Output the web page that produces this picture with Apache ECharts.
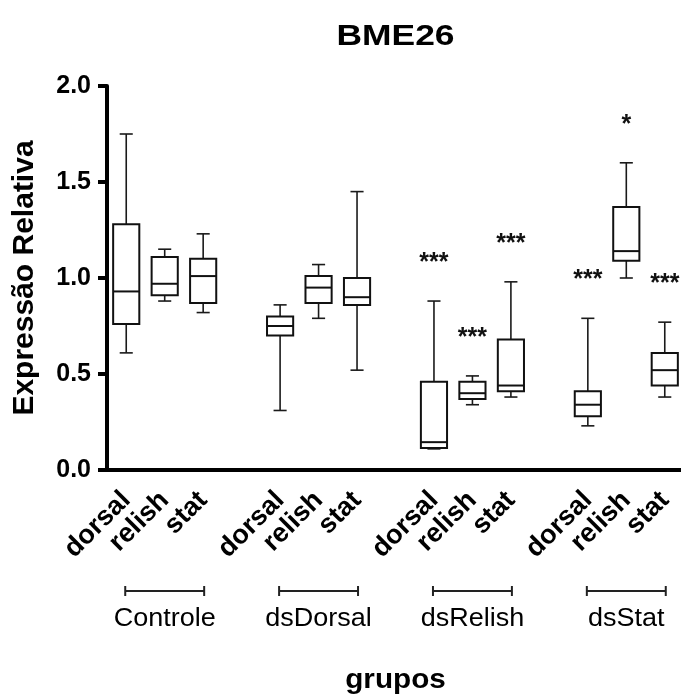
<!DOCTYPE html>
<html>
<head>
<meta charset="utf-8">
<script src="https://cdn.jsdelivr.net/npm/echarts@6/dist/echarts.min.js"></script>
<style>
  html, body { margin: 0; padding: 0; background: #fff; }
  #chart { width: 681px; height: 698px; }
</style>
</head>
<body>
<div id="chart"></div>
<script>
// Treatment groups and the genes measured in each
const groups = ['Controle', 'dsDorsal', 'dsRelish', 'dsStat'];
const genes = ['dorsal', 'relish', 'stat'];

// Box statistics, one entry per group/gene pair (group-major order)
const whiskerLow  = [0.61, 0.88, 0.82,  0.31, 0.79, 0.52,  0.11, 0.34, 0.38,  0.23, 1.00, 0.38];
const quartile1   = [0.76, 0.91, 0.87,  0.70, 0.87, 0.86,  0.115, 0.37, 0.41, 0.28, 1.09, 0.44];
const medians     = [0.93, 0.97, 1.01,  0.75, 0.95, 0.90,  0.145, 0.40, 0.44, 0.34, 1.14, 0.52];
const quartile3   = [1.28, 1.11, 1.10,  0.80, 1.01, 1.00,  0.46, 0.46, 0.68,  0.41, 1.37, 0.61];
const whiskerHigh = [1.75, 1.15, 1.23,  0.86, 1.07, 1.45,  0.88, 0.49, 0.98,  0.79, 1.60, 0.77];

// Significance marks versus control
const significance = ['', '', '',  '', '', '',  '***', '***', '***',  '***', '*', '***'];

// Y axis ticks
const yTicks = { min: 0, max: 2, interval: 0.5 };

const FONT = '"Liberation Sans", Arial, Helvetica, sans-serif';

// Category slots: three genes per group with an empty slot between groups
const slots = [];
const slotOfItem = [];
groups.forEach((g, gi) => {
  genes.forEach((gene) => {
    slotOfItem.push(slots.length);
    slots.push(g + '|' + gene);
  });
  if (gi < groups.length - 1) slots.push('gap' + gi);
});

const boxData = slotOfItem.map((s, i) => [s, whiskerLow[i], quartile1[i], medians[i], quartile3[i], whiskerHigh[i]]);

function renderBox(params, api) {
  const cat = api.value(0);
  const x = api.coord([cat, 0])[0];
  const py = (v) => api.coord([cat, v])[1];
  const bw = api.size([1, 0])[0] * 0.68;
  const cap = bw * 0.25;
  const yMin = py(api.value(1)), yQ1 = py(api.value(2)), yMed = py(api.value(3));
  const yQ3 = py(api.value(4)), yMax = py(api.value(5));
  const whisk = { stroke: '#1a1a1a', lineWidth: 1.6 };
  const boxS = { stroke: '#111', lineWidth: 2, fill: '#fff' };
  const children = [
    { type: 'line', shape: { x1: x, y1: yQ3, x2: x, y2: yMax }, style: whisk },
    { type: 'line', shape: { x1: x - cap, y1: yMax, x2: x + cap, y2: yMax }, style: whisk },
    { type: 'line', shape: { x1: x, y1: yQ1, x2: x, y2: yMin }, style: whisk },
    { type: 'line', shape: { x1: x - cap, y1: yMin, x2: x + cap, y2: yMin }, style: whisk },
    { type: 'rect', shape: { x: x - bw / 2, y: yQ3, width: bw, height: yQ1 - yQ3 }, style: boxS },
    { type: 'line', shape: { x1: x - bw / 2, y1: yMed, x2: x + bw / 2, y2: yMed }, style: { stroke: '#111', lineWidth: 2 } }
  ];
  const sig = significance[params.dataIndex];
  if (sig) {
    children.push({
      type: 'text',
      x: x, y: yMax - 38,
      style: { text: sig, textAlign: 'center', textVerticalAlign: 'middle', font: 'bold 25px ' + FONT, fill: '#111' }
    });
  }
  return { type: 'group', children };
}

const chart = echarts.init(document.getElementById('chart'), null, { renderer: 'canvas' });

chart.setOption({
  animation: false,
  backgroundColor: '#fff',
  grid: { left: 107, right: -3, top: 86, bottom: 228, containLabel: false, outerBoundsMode: 'none' },
  xAxis: {
    type: 'category',
    data: slots,
    boundaryGap: true,
    axisLine: { lineStyle: { color: '#000', width: 4 } },
    axisTick: {
      alignWithLabel: true,
      length: 10,
      lineStyle: { color: '#000', width: 4 },
      interval: (idx, val) => val.indexOf('|') >= 0
    },
    axisLabel: {
      interval: 0,
      rotate: 45,
      margin: 26,
      color: '#000',
      fontFamily: FONT,
      fontWeight: 'bold',
      fontSize: 27,
      formatter: (v) => (v.indexOf('|') >= 0 ? v.split('|')[1] : '')
    },
    splitLine: { show: false }
  },
  yAxis: {
    type: 'value',
    min: yTicks.min,
    max: yTicks.max,
    interval: yTicks.interval,
    name: 'Expressão Relativa',
    nameLocation: 'middle',
    nameGap: 67,
    nameTextStyle: { fontFamily: FONT, fontWeight: 'bold', fontSize: 30, color: '#000' },
    axisLine: { show: true, lineStyle: { color: '#000', width: 4 } },
    axisTick: { show: true, length: 9, lineStyle: { color: '#000', width: 4 } },
    axisLabel: {
      margin: 16,
      color: '#000',
      fontFamily: FONT,
      fontWeight: 'bold',
      fontSize: 25,
      formatter: (v) => v.toFixed(1)
    },
    splitLine: { show: false }
  },
  series: [{
    type: 'custom',
    renderItem: renderBox,
    data: boxData,
    encode: { x: 0, y: [1, 2, 3, 4, 5] },
    z: 3
  }]
});

// Titles and group brackets placed relative to the axes
function buildGraphics() {
  const toX = (slot) => chart.convertToPixel({ xAxisIndex: 0 }, slot);
  const yBase = chart.convertToPixel({ yAxisIndex: 0 }, 0);
  const xLeft = toX(0) - 19.2;
  const xRight = toX(slots.length - 1) + 19.2;
  const cx = (xLeft + xRight) / 2;
  const els = [];
  els.push({
    type: 'text', x: cx, y: 37, scaleX: 1.18, scaleY: 1,
    style: { text: 'BME26', textAlign: 'center', textVerticalAlign: 'middle', font: 'bold 30px ' + FONT, fill: '#000' }
  });
  els.push({
    type: 'text', x: cx, y: 681, scaleX: 1.1,
    style: { text: 'grupos', textAlign: 'center', textVerticalAlign: 'middle', font: 'bold 27px ' + FONT, fill: '#000' }
  });
  const bracketY = yBase + 121;
  groups.forEach((g, gi) => {
    const a = toX(slotOfItem[gi * 3]) - 1;
    const b = toX(slotOfItem[gi * 3 + 2]) + 1;
    const st = { stroke: '#222', lineWidth: 2 };
    els.push({ type: 'line', shape: { x1: a, y1: bracketY, x2: b, y2: bracketY }, style: st });
    els.push({ type: 'line', shape: { x1: a, y1: bracketY - 5, x2: a, y2: bracketY + 5 }, style: st });
    els.push({ type: 'line', shape: { x1: b, y1: bracketY - 5, x2: b, y2: bracketY + 5 }, style: st });
    els.push({
      type: 'text', x: (a + b) / 2, y: bracketY + 28, scaleX: 1.08,
      style: { text: g, textAlign: 'center', textVerticalAlign: 'middle', font: '25px ' + FONT, fill: '#000' }
    });
  });
  chart.setOption({ graphic: els });
}
buildGraphics();
</script>
</body>
</html>
